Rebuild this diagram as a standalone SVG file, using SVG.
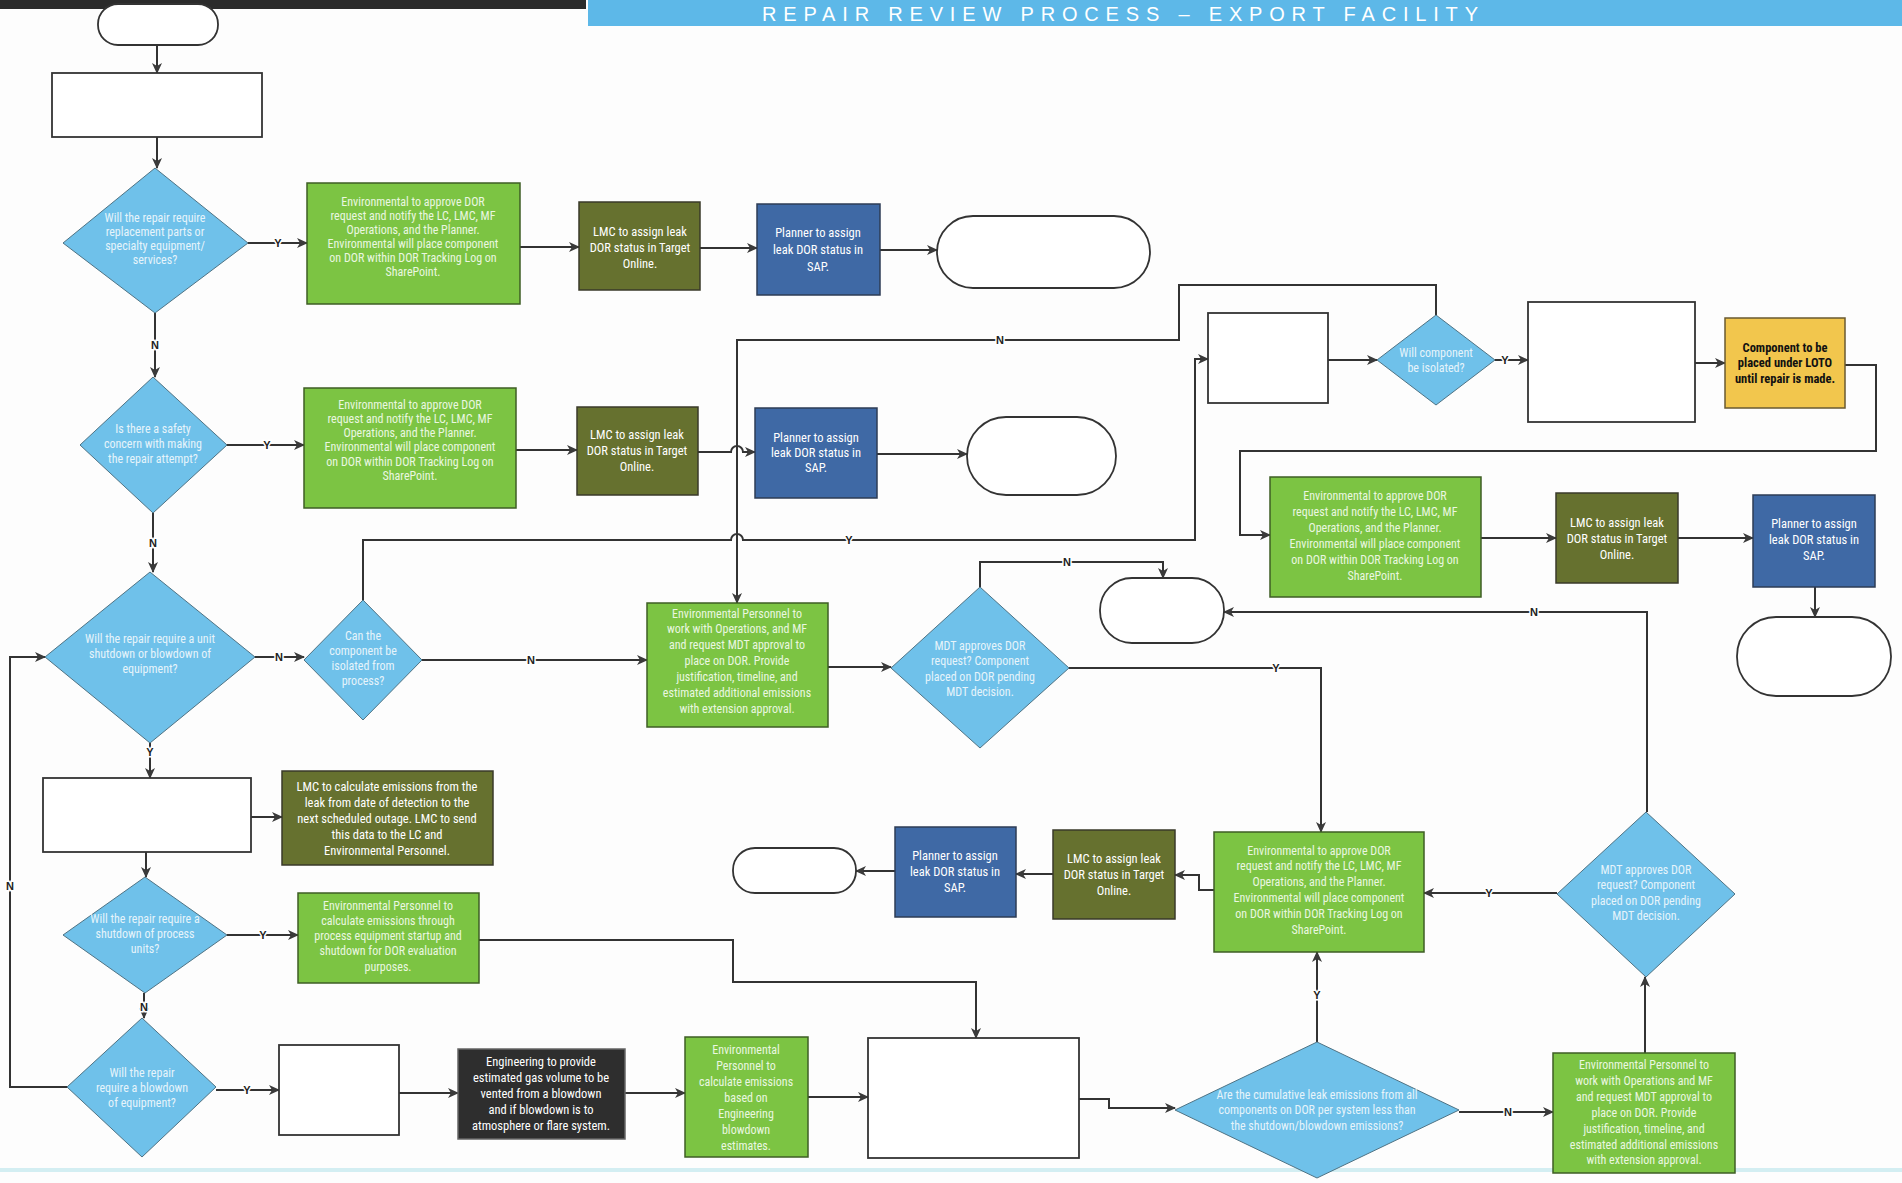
<svg xmlns="http://www.w3.org/2000/svg" width="1902" height="1183" viewBox="0 0 1902 1183">
<defs>
<marker id="ah" markerUnits="userSpaceOnUse" markerWidth="11" markerHeight="10" refX="10" refY="5" orient="auto">
<path d="M0,0 L11,5 L0,10 L3,5 z" fill="#3a3a3a"/>
</marker>
<style>
.dia{fill:#6fc1ea;stroke:#4f7384;stroke-width:1}
.grn{fill:#7cc443;stroke:#3e5e25;stroke-width:1.5}
.olv{fill:#66712f;stroke:#3a3a2a;stroke-width:1.5}
.blu{fill:#3f69a5;stroke:#2e3d55;stroke-width:1.5}
.wht{fill:#fff;stroke:#333;stroke-width:1.8}
.yel{fill:#f2c64d;stroke:#6a5a30;stroke-width:1.5}
.blk{fill:#2e2e2e;stroke:#666;stroke-width:1.5}
text{font-family:"Liberation Sans Narrow","Roboto Condensed","DejaVu Sans Condensed","Liberation Sans",sans-serif;text-anchor:middle}
.tw{font-size:12.5px;fill:#ffffff}
.tf{font-size:12px;fill:#eaf7e0}
.td{font-size:12px;fill:#e6f4fb}
.ty{font-size:12.5px;fill:#111;font-weight:bold}
.c{fill:none;stroke:#333;stroke-width:2;marker-end:url(#ah)}
.lb{font-family:"Liberation Sans",sans-serif;font-size:11px;font-weight:bold;fill:#222;stroke:#fff;stroke-width:3;paint-order:stroke}
</style>
</defs>
<rect x="0" y="0" width="1902" height="1183" fill="#fdfdfd"/>
<g id="header">
<rect x="0" y="0" width="586" height="9" fill="#2b2b2b"/>
<rect x="588" y="0" width="1314" height="26" fill="#5db8e8"/>
<text x="762" y="21" style="font-family:'Liberation Sans',sans-serif;font-size:20px;fill:#ffffff;text-anchor:start" textLength="716" lengthAdjust="spacing">REPAIR REVIEW PROCESS – EXPORT FACILITY</text>
</g>
<rect x="0" y="1168" width="1902" height="4" fill="#d3eef2"/>

<g id="connectors">
<path class="c" d="M157 45 V73"/>
<path class="c" d="M157 137 V168"/>
<path class="c" d="M248 243 H307"/>
<path class="c" d="M520 247 H579"/>
<path class="c" d="M700 248 H757"/>
<path class="c" d="M880 250 H937"/>
<path class="c" d="M155 313 V377"/>
<path class="c" d="M227 445 H304"/>
<path class="c" d="M516 450 H577"/>
<path class="c" d="M698 452 H731 A6 6 0 0 1 743 452 H755"/>
<path class="c" d="M877 454 H967"/>
<path class="c" d="M153 513 V572"/>
<path class="c" d="M255 657 H304"/>
<path class="c" d="M422 660 H647"/>
<path class="c" d="M363 600 V540 H731 A6 6 0 0 1 743 540 H1195 V359 H1208"/>
<path class="c" d="M1436 315 V285 H1179 V340 H737 V603"/>
<path class="c" d="M1328 360 H1377"/>
<path class="c" d="M1495 360 H1528"/>
<path class="c" d="M1695 363 H1725"/>
<path class="c" d="M1845 365 H1876 V451 H1240 V535 H1270"/>
<path class="c" d="M1481 538 H1556"/>
<path class="c" d="M1678 538 H1753"/>
<path class="c" d="M1815 587 V617"/>
<path class="c" d="M828 667 H891"/>
<path class="c" d="M980 587 V562 H1163 V578"/>
<path class="c" d="M1069 668 H1321 V832"/>
<path class="c" d="M150 743 V778"/>
<path class="c" d="M251 817 H282"/>
<path class="c" d="M146 852 V877"/>
<path class="c" d="M227 935 H298"/>
<path class="c" d="M479 940 H733 V982 H976 V1038"/>
<path class="c" d="M144 993 V1018"/>
<path class="c" d="M67 1087 H10 V657 H45"/>
<path class="c" d="M216 1090 H279"/>
<path class="c" d="M399 1093 H458"/>
<path class="c" d="M625 1093 H685"/>
<path class="c" d="M808 1097 H868"/>
<path class="c" d="M1079 1099 H1109 V1108 H1175"/>
<path class="c" d="M1317 1042 V952"/>
<path class="c" d="M1459 1112 H1553"/>
<path class="c" d="M1645 1053 V977"/>
<path class="c" d="M1557 893 H1424"/>
<path class="c" d="M1647 812 V612 H1224"/>
<path class="c" d="M1214 890 H1199 V875 H1175"/>
<path class="c" d="M1053 874 H1016"/>
<path class="c" d="M895 871 H856"/>
<text class="lb" x="278" y="247">Y</text>
<text class="lb" x="155" y="349">N</text>
<text class="lb" x="267" y="449">Y</text>
<text class="lb" x="153" y="547">N</text>
<text class="lb" x="279" y="661">N</text>
<text class="lb" x="531" y="664">N</text>
<text class="lb" x="849" y="544">Y</text>
<text class="lb" x="1000" y="344">N</text>
<text class="lb" x="1505" y="364">Y</text>
<text class="lb" x="1067" y="566">N</text>
<text class="lb" x="1276" y="672">Y</text>
<text class="lb" x="150" y="756">Y</text>
<text class="lb" x="263" y="939">Y</text>
<text class="lb" x="144" y="1011">N</text>
<text class="lb" x="10" y="890">N</text>
<text class="lb" x="247" y="1094">Y</text>
<text class="lb" x="1317" y="999">Y</text>
<text class="lb" x="1508" y="1116">N</text>
<text class="lb" x="1489" y="897">Y</text>
<text class="lb" x="1534" y="616">N</text>
</g>

<g id="start"><rect class="wht" x="98" y="4" width="120" height="41" rx="20"/></g>
<g id="box1"><rect class="wht" x="52" y="73" width="210" height="64"/></g>
<g id="d1"><polygon class="dia" points="155,168 248,243 155,313 63,243"/>
<text class="td"><tspan x="155" y="222">Will the repair require</tspan><tspan x="155" y="236">replacement parts or</tspan><tspan x="155" y="250">specialty equipment/</tspan><tspan x="155" y="264">services?</tspan></text></g>
<g id="g1"><rect class="grn" x="307" y="183" width="213" height="121"/>
<text class="tf"><tspan x="413" y="206">Environmental to approve DOR</tspan><tspan x="413" y="220">request and notify the LC, LMC, MF</tspan><tspan x="413" y="234">Operations, and the Planner.</tspan><tspan x="413" y="248">Environmental will place component</tspan><tspan x="413" y="262">on DOR within DOR Tracking Log on</tspan><tspan x="413" y="276">SharePoint.</tspan></text></g>
<g id="l1"><rect class="olv" x="579" y="202" width="121" height="88"/>
<text class="tw"><tspan x="640" y="236">LMC to assign leak</tspan><tspan x="640" y="252">DOR status in Target</tspan><tspan x="640" y="268">Online.</tspan></text></g>
<g id="b1"><rect class="blu" x="757" y="204" width="123" height="91"/>
<text class="tw"><tspan x="818" y="237">Planner to assign</tspan><tspan x="818" y="254">leak DOR status in</tspan><tspan x="818" y="271">SAP.</tspan></text></g>
<g id="t2"><rect class="wht" x="937" y="216" width="213" height="72" rx="36"/></g>

<g id="d2"><polygon class="dia" points="153,377 227,445 153,513 80,445"/>
<text class="td"><tspan x="153" y="433">Is there a safety</tspan><tspan x="153" y="448">concern with making</tspan><tspan x="153" y="463">the repair attempt?</tspan></text></g>
<g id="g2"><rect class="grn" x="304" y="388" width="212" height="120"/>
<text class="tf"><tspan x="410" y="409">Environmental to approve DOR</tspan><tspan x="410" y="423">request and notify the LC, LMC, MF</tspan><tspan x="410" y="437">Operations, and the Planner.</tspan><tspan x="410" y="451">Environmental will place component</tspan><tspan x="410" y="466">on DOR within DOR Tracking Log on</tspan><tspan x="410" y="480">SharePoint.</tspan></text></g>
<g id="l2"><rect class="olv" x="577" y="407" width="121" height="88"/>
<text class="tw"><tspan x="637" y="439">LMC to assign leak</tspan><tspan x="637" y="455">DOR status in Target</tspan><tspan x="637" y="471">Online.</tspan></text></g>
<g id="b2"><rect class="blu" x="755" y="408" width="122" height="90"/>
<text class="tw"><tspan x="816" y="442">Planner to assign</tspan><tspan x="816" y="457">leak DOR status in</tspan><tspan x="816" y="472">SAP.</tspan></text></g>
<g id="t5"><rect class="wht" x="967" y="417" width="149" height="78" rx="39"/></g>

<g id="wb2"><rect class="wht" x="1208" y="313" width="120" height="90"/></g>
<g id="d8"><polygon class="dia" points="1436,315 1495,360 1436,405 1377,360"/>
<text class="td"><tspan x="1436" y="357">Will component</tspan><tspan x="1436" y="372">be isolated?</tspan></text></g>
<g id="wb3"><rect class="wht" x="1528" y="302" width="167" height="120"/></g>
<g id="loto"><rect class="yel" x="1725" y="318" width="120" height="90"/>
<text class="ty"><tspan x="1785" y="352">Component to be</tspan><tspan x="1785" y="367">placed under LOTO</tspan><tspan x="1785" y="383">until repair is made.</tspan></text></g>

<g id="d3"><polygon class="dia" points="150,572 255,657 150,743 45,657"/>
<text class="td"><tspan x="150" y="643">Will the repair require a unit</tspan><tspan x="150" y="658">shutdown or blowdown of</tspan><tspan x="150" y="673">equipment?</tspan></text></g>
<g id="d4"><polygon class="dia" points="363,600 422,660 363,720 304,660"/>
<text class="td"><tspan x="363" y="640">Can the</tspan><tspan x="363" y="655">component be</tspan><tspan x="363" y="670">isolated from</tspan><tspan x="363" y="685">process?</tspan></text></g>
<g id="g3"><rect class="grn" x="647" y="603" width="181" height="124"/>
<text class="tf"><tspan x="737" y="618">Environmental Personnel to</tspan><tspan x="737" y="633">work with Operations, and MF</tspan><tspan x="737" y="649">and request MDT approval to</tspan><tspan x="737" y="665">place on DOR.  Provide</tspan><tspan x="737" y="681">justification, timeline, and</tspan><tspan x="737" y="697">estimated additional emissions</tspan><tspan x="737" y="713">with extension approval.</tspan></text></g>
<g id="md1"><polygon class="dia" points="980,587 1069,668 980,748 891,668"/>
<text class="td"><tspan x="980" y="650">MDT approves DOR</tspan><tspan x="980" y="665">request?  Component</tspan><tspan x="980" y="681">placed on DOR pending</tspan><tspan x="980" y="696">MDT decision.</tspan></text></g>
<g id="t4"><rect class="wht" x="1100" y="578" width="124" height="65" rx="32"/></g>

<g id="g4"><rect class="grn" x="1270" y="477" width="211" height="120"/>
<text class="tf"><tspan x="1375" y="500">Environmental to approve DOR</tspan><tspan x="1375" y="516">request and notify the LC, LMC, MF</tspan><tspan x="1375" y="532">Operations, and the Planner.</tspan><tspan x="1375" y="548">Environmental will place component</tspan><tspan x="1375" y="564">on DOR within DOR Tracking Log on</tspan><tspan x="1375" y="580">SharePoint.</tspan></text></g>
<g id="l4"><rect class="olv" x="1556" y="493" width="122" height="90"/>
<text class="tw"><tspan x="1617" y="527">LMC to assign leak</tspan><tspan x="1617" y="543">DOR status in Target</tspan><tspan x="1617" y="559">Online.</tspan></text></g>
<g id="b3"><rect class="blu" x="1753" y="495" width="122" height="92"/>
<text class="tw"><tspan x="1814" y="528">Planner to assign</tspan><tspan x="1814" y="544">leak DOR status in</tspan><tspan x="1814" y="560">SAP.</tspan></text></g>
<g id="t3"><rect class="wht" x="1737" y="617" width="154" height="79" rx="39"/></g>

<g id="box4"><rect class="wht" x="43" y="778" width="208" height="74"/></g>
<g id="o3"><rect class="olv" x="282" y="771" width="211" height="94"/>
<text class="tw"><tspan x="387" y="791">LMC to calculate emissions from the</tspan><tspan x="387" y="807">leak from date of detection to the</tspan><tspan x="387" y="823">next scheduled outage.  LMC to send</tspan><tspan x="387" y="839">this data to the LC and</tspan><tspan x="387" y="855">Environmental Personnel.</tspan></text></g>
<g id="d5"><polygon class="dia" points="145,877 227,935 145,993 63,935"/>
<text class="td"><tspan x="145" y="923">Will the repair require a</tspan><tspan x="145" y="938">shutdown of process</tspan><tspan x="145" y="953">units?</tspan></text></g>
<g id="g6"><rect class="grn" x="298" y="893" width="181" height="90"/>
<text class="tf"><tspan x="388" y="910">Environmental Personnel to</tspan><tspan x="388" y="925">calculate emissions through</tspan><tspan x="388" y="940">process equipment startup and</tspan><tspan x="388" y="955">shutdown for DOR evaluation</tspan><tspan x="388" y="971">purposes.</tspan></text></g>
<g id="d6"><polygon class="dia" points="142,1018 216,1087 142,1157 67,1087"/>
<text class="td"><tspan x="142" y="1077">Will the repair</tspan><tspan x="142" y="1092">require a blowdown</tspan><tspan x="142" y="1107">of equipment?</tspan></text></g>
<g id="box5"><rect class="wht" x="279" y="1045" width="120" height="90"/></g>
<g id="bk"><rect class="blk" x="458" y="1049" width="167" height="90"/>
<text class="tw"><tspan x="541" y="1066">Engineering to provide</tspan><tspan x="541" y="1082">estimated gas volume to be</tspan><tspan x="541" y="1098">vented from a blowdown</tspan><tspan x="541" y="1114">and if blowdown is to</tspan><tspan x="541" y="1130">atmosphere or flare system.</tspan></text></g>
<g id="g7"><rect class="grn" x="685" y="1037" width="123" height="120"/>
<text class="tf"><tspan x="746" y="1054">Environmental</tspan><tspan x="746" y="1070">Personnel to</tspan><tspan x="746" y="1086">calculate emissions</tspan><tspan x="746" y="1102">based on</tspan><tspan x="746" y="1118">Engineering</tspan><tspan x="746" y="1134">blowdown</tspan><tspan x="746" y="1150">estimates.</tspan></text></g>
<g id="box6"><rect class="wht" x="868" y="1038" width="211" height="120"/></g>
<g id="d7"><polygon class="dia" points="1317,1042 1459,1110 1317,1178 1175,1110"/>
<text class="td"><tspan x="1317" y="1099">Are the cumulative leak emissions from all</tspan><tspan x="1317" y="1114">components on DOR per system less than</tspan><tspan x="1317" y="1130">the shutdown/blowdown emissions?</tspan></text></g>
<g id="g5"><rect class="grn" x="1214" y="832" width="210" height="120"/>
<text class="tf"><tspan x="1319" y="855">Environmental to approve DOR</tspan><tspan x="1319" y="870">request and notify the LC, LMC, MF</tspan><tspan x="1319" y="886">Operations, and the Planner.</tspan><tspan x="1319" y="902">Environmental will place component</tspan><tspan x="1319" y="918">on DOR within DOR Tracking Log on</tspan><tspan x="1319" y="934">SharePoint.</tspan></text></g>
<g id="o4"><rect class="olv" x="1053" y="830" width="122" height="89"/>
<text class="tw"><tspan x="1114" y="863">LMC to assign leak</tspan><tspan x="1114" y="879">DOR status in Target</tspan><tspan x="1114" y="895">Online.</tspan></text></g>
<g id="b4"><rect class="blu" x="895" y="827" width="121" height="90"/>
<text class="tw"><tspan x="955" y="860">Planner to assign</tspan><tspan x="955" y="876">leak DOR status in</tspan><tspan x="955" y="892">SAP.</tspan></text></g>
<g id="t6"><rect class="wht" x="733" y="848" width="123" height="45" rx="22"/></g>
<g id="g8"><rect class="grn" x="1553" y="1053" width="182" height="120"/>
<text class="tf"><tspan x="1644" y="1069">Environmental Personnel to</tspan><tspan x="1644" y="1085">work with Operations and MF</tspan><tspan x="1644" y="1101">and request MDT approval to</tspan><tspan x="1644" y="1117">place on DOR.  Provide</tspan><tspan x="1644" y="1133">justification, timeline, and</tspan><tspan x="1644" y="1149">estimated additional emissions</tspan><tspan x="1644" y="1164">with extension approval.</tspan></text></g>
<g id="md2"><polygon class="dia" points="1646,812 1735,894 1646,977 1557,894"/>
<text class="td"><tspan x="1646" y="874">MDT approves DOR</tspan><tspan x="1646" y="889">request?  Component</tspan><tspan x="1646" y="905">placed on DOR pending</tspan><tspan x="1646" y="920">MDT decision.</tspan></text></g>
</svg>
